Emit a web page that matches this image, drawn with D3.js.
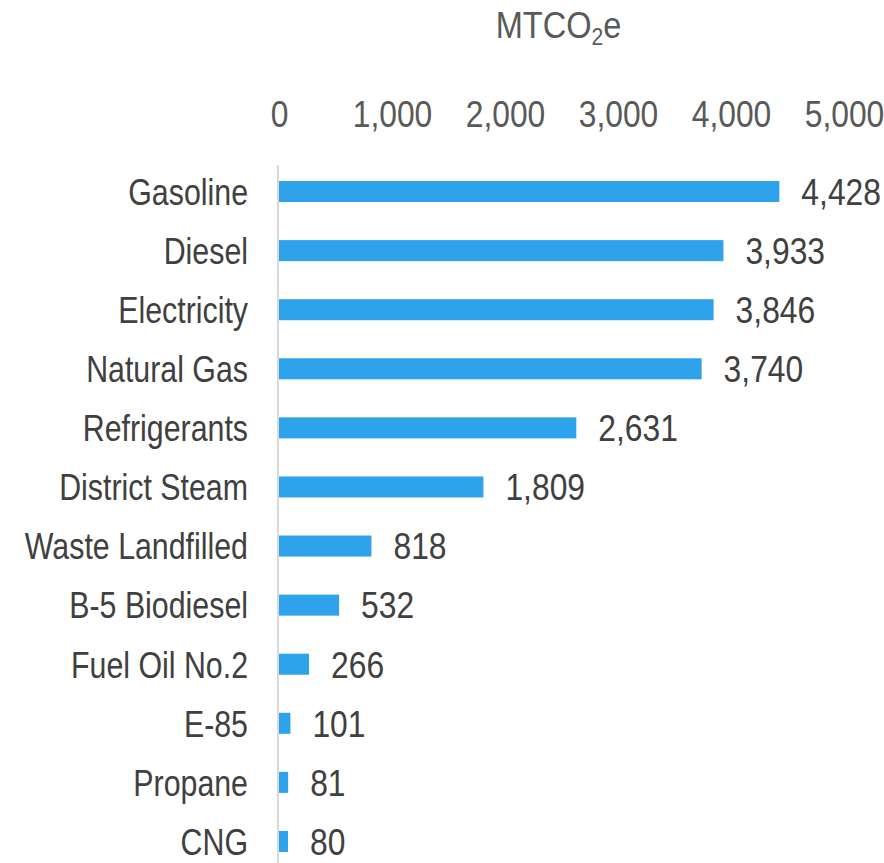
<!DOCTYPE html>
<html>
<head>
<meta charset="utf-8">
<script src="https://cdn.jsdelivr.net/npm/d3@7"></script>
<style>
  body { margin: 0; background: #fff; }
  svg text { font-family: "Liberation Sans", Arial, sans-serif; }
</style>
</head>
<body>
<svg id="chart"></svg>
<script>
// data
const categories = ["Gasoline", "Diesel", "Electricity", "Natural Gas", "Refrigerants",
  "District Steam", "Waste Landfilled", "B-5 Biodiesel", "Fuel Oil No.2", "E-85", "Propane", "CNG"];
const values = [4428, 3933, 3846, 3740, 2631, 1809, 818, 532, 266, 101, 81, 80];
const xTicks = [0, 1000, 2000, 3000, 4000, 5000];

const width = 884;
const height = 863;
const plotLeft = 279, plotRight = 844;
const plotTop = 162, plotBottom = 871;
const fontSize = 37;
const squeezeText = 0.82;  // the original font is a narrow one
const squeezeNum = 0.86;

const data = categories.map((c, i) => ({ name: c, value: values[i] }));

const svg = d3.select("#chart").attr("width", width).attr("height", height);

const xScale = d3.scaleLinear().domain([0, 5000]).range([plotLeft, plotRight]);
const yScale = d3.scaleBand().domain(categories).range([plotTop, plotBottom])
  .paddingInner(0.644).paddingOuter(0.322);

const fmt = d3.format(",");

// title
const title = svg.append("text")
  .attr("transform", `translate(${(plotLeft + plotRight) / 2 - 3},38) scale(0.88,1)`)
  .attr("text-anchor", "middle")
  .attr("font-size", fontSize + "px")
  .attr("fill", "#595959");
title.append("tspan").text("MTCO");
title.append("tspan").attr("font-size", "24px").attr("dy", 7).text("2");
title.append("tspan").attr("dy", -7).text("e");

// top axis (labels only)
const xAxis = d3.axisTop(xScale).tickValues(xTicks).tickFormat(fmt).tickSize(0).tickPadding(0);
const gx = svg.append("g").attr("transform", "translate(0,127)").call(xAxis);
gx.select(".domain").remove();
gx.selectAll("text")
  .attr("y", 0).attr("dy", 0)
  .attr("transform", `scale(${squeezeNum},1)`)
  .attr("font-size", fontSize + "px")
  .attr("fill", "#595959");

// bars
svg.append("g").selectAll("rect")
  .data(data)
  .join("rect")
  .attr("x", xScale(0))
  .attr("y", d => yScale(d.name))
  .attr("width", d => xScale(d.value) - xScale(0))
  .attr("height", yScale.bandwidth())
  .attr("fill", "#2ea2ea");

// vertical axis line with category labels
const yAxis = d3.axisLeft(yScale).tickSize(0);
const gy = svg.append("g").attr("transform", `translate(${xScale(0) - 1},0)`).call(yAxis);
gy.select(".domain").attr("stroke", "#d9d9d9").attr("stroke-width", 2)
  .attr("d", `M0,${plotTop + 3}V${height}`);
gy.selectAll("text")
  .attr("x", 0).attr("dy", "0.36em")
  .attr("transform", `translate(-30,0) scale(${squeezeText},1)`)
  .attr("font-size", fontSize + "px")
  .attr("fill", "#404040");

// value labels
svg.append("g").selectAll("text")
  .data(data)
  .join("text")
  .attr("transform", d => `translate(${xScale(d.value) + 22},${yScale(d.name) + yScale.bandwidth() / 2}) scale(${squeezeNum},1)`)
  .attr("dy", "0.36em")
  .attr("font-size", fontSize + "px")
  .attr("fill", "#404040")
  .text(d => fmt(d.value));
</script>
</body>
</html>
